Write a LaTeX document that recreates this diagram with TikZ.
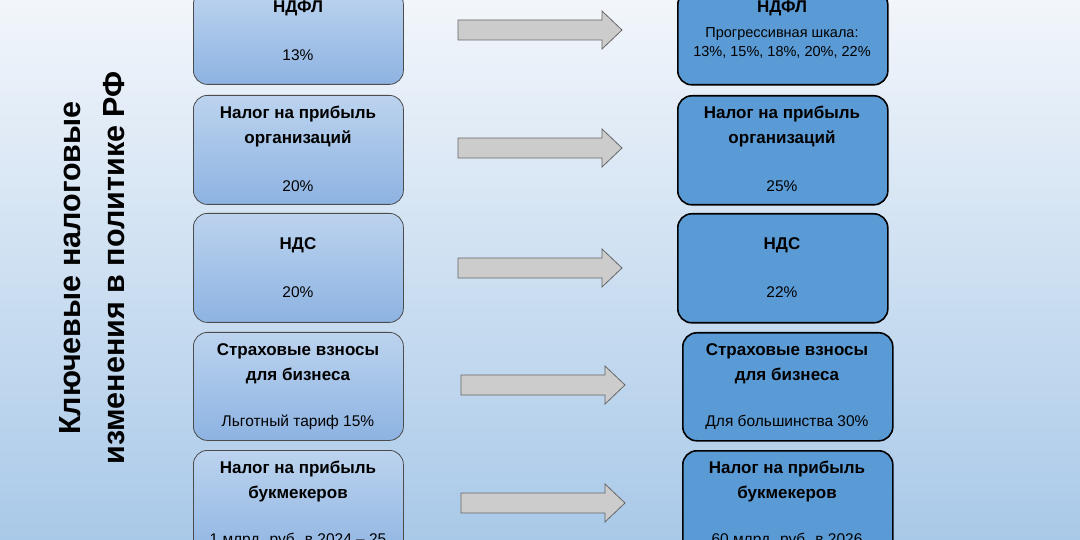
\documentclass[tikz,border=0pt]{standalone}
\usepackage{fontspec}
\setmainfont{Liberation Sans}
\definecolor{bgtop}{HTML}{F2F6FB}
\definecolor{bgbot}{HTML}{A9C9E8}
\definecolor{ltop}{HTML}{BCD3EE}
\definecolor{lbot}{HTML}{8DB3E2}
\definecolor{rfill}{HTML}{5B9BD5}
\tikzset{
 lbox/.style={draw=black!70,line width=0.8pt,rounded corners=14pt,top color=ltop,bottom color=lbot,minimum width=210pt,anchor=north west},
 rbox/.style={draw=black,line width=1.6pt,rounded corners=14pt,fill=rfill,minimum width=210pt,anchor=north west},
 ttl/.style={font=\bfseries\fontsize{17}{25}\selectfont,align=center},
 val/.style={font=\fontsize{15.5}{18}\selectfont,align=center},
 arr/.style={draw=black!60,line width=0.8pt,fill=black!20},
}
\newcommand{\bigarrow}[2]{%
  \coordinate (#1) at #2;
  \draw[arr] ([shift={(-82,-10)}]#1) -- ([shift={(62,-10)}]#1) -- ([shift={(62,-19)}]#1) -- ([shift={(82,0)}]#1) -- ([shift={(62,19)}]#1) -- ([shift={(62,10)}]#1) -- ([shift={(-82,10)}]#1) -- cycle;}
\begin{document}
\begin{tikzpicture}[x=1pt,y=-1pt]
\useasboundingbox (0,0) rectangle (1080,540);
\clip (0,0) rectangle (1080,540);
\shade[top color=bgtop,bottom color=bgbot] (0,0) rectangle (1080,540);
\node[rotate=90,font=\bfseries\fontsize{30.5}{44}\selectfont,align=center] (title) at (92,268) {Ключевые налоговые\\изменения в политике РФ};
\foreach \i/\y/\h/\rx in {1/-10/94/677,2/95/109/677,3/213/109/677,4/332/108/682,5/450/112/682}{
  \node[lbox,minimum height=\h pt] (l\i) at (193,\y) {};
  \node[rbox,minimum height=\h pt] (r\i) at (\rx,\y) {};
}
\bigarrow{a1}{(540,30)}
\bigarrow{a2}{(540,148)}
\bigarrow{a3}{(540,268)}
\bigarrow{a4}{(543,385)}
\bigarrow{a5}{(543,503)}
\node[ttl] (lt1) at (298,8) {НДФЛ};
\node[val] (lv1) at (298,55) {13\%};
\node[ttl] (lt2) at (298,127) {Налог на прибыль\\организаций};
\node[val] (lv2) at (298,186) {20\%};
\node[ttl] (lt3) at (298,245) {НДС};
\node[val] (lv3) at (298,292) {20\%};
\node[ttl] (lt4) at (298,364) {Страховые взносы\\для бизнеса};
\node[val] (lv4) at (298,422) {Льготный тариф 15\%};
\node[ttl] (lt5) at (298,482) {Налог на прибыль\\букмекеров};
\node[val] (lv5) at (298,540) {1 млрд. руб. в 2024 -- 25};
\node[ttl] (rt1) at (782,8) {НДФЛ};
\node[val,font=\fontsize{14.5}{19}\selectfont] (rv1) at (782,43) {Прогрессивная шкала:\\13\%, 15\%, 18\%, 20\%, 22\%};
\node[ttl] (rt2) at (782,127) {Налог на прибыль\\организаций};
\node[val] (rv2) at (782,186) {25\%};
\node[ttl] (rt3) at (782,245) {НДС};
\node[val] (rv3) at (782,292) {22\%};
\node[ttl] (rt4) at (787,364) {Страховые взносы\\для бизнеса};
\node[val] (rv4) at (787,422) {Для большинства 30\%};
\node[ttl] (rt5) at (787,482) {Налог на прибыль\\букмекеров};
\node[val] (rv5) at (787,540) {60 млрд. руб. в 2026};
\end{tikzpicture}
\end{document}
